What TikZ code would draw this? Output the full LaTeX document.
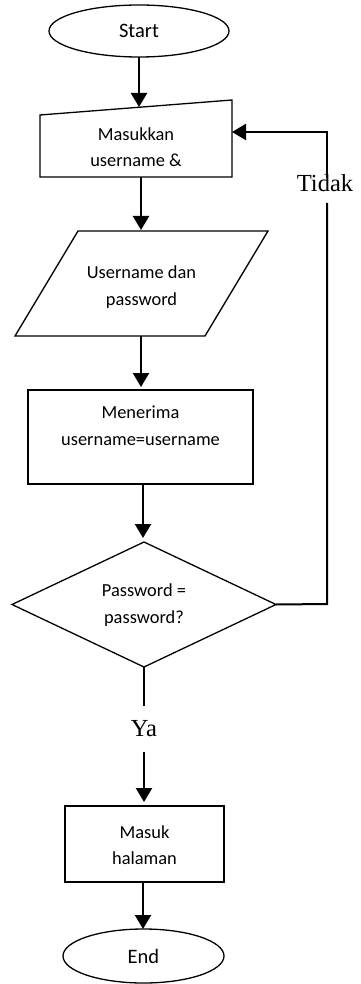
\documentclass[tikz,border=0pt]{standalone}
\usepackage{fontspec}
\setmainfont{Carlito}
\newfontfamily\timesf{Liberation Serif}
\usetikzlibrary{arrows.meta,shapes.geometric}
\begin{document}
\begin{tikzpicture}[x=1pt,y=-1pt,
  shapeline/.style={draw=black, line width=1.3pt},
  frame/.style={shapeline, inner sep=0pt, outer sep=0pt},
  boxtext/.style={align=center, font=\fontsize{18.4}{26.5}\selectfont, inner sep=0pt},
  termtext/.style={font=\fontsize{20.5}{24}\selectfont},
  arr/.style={line width=2.2pt, -{Triangle[width=16pt,length=14pt]}},
  conn/.style={line width=2pt},
  lbl/.style={font=\timesf\fontsize{24.5}{28}\selectfont, inner sep=0pt}]
\useasboundingbox (0,0) rectangle (360,984);

% Start
\node[ellipse, frame, minimum width=180pt, minimum height=52pt, termtext] (start) at (139,31) {Start};

% Manual input
\node[inner sep=0pt, outer sep=0pt, minimum width=192pt, minimum height=77pt] (inp) at (136,138.5) {};
\draw[shapeline] (inp.south west) -- ++(0,-62) -- (inp.north east) -- (inp.south east) -- cycle;
\node[boxtext] (inptext) at (136,147) {Masukkan\\username \&};
\coordinate (inptip) at (139,107);

% Parallelogram
\node[inner sep=0pt, outer sep=0pt, minimum width=190pt, minimum height=105pt] (par) at (141.5,283.5) {};
\draw[shapeline] (78,231) -- (268,231) -- (205,336) -- (15,336) -- cycle;
\node[boxtext] (partext) at (141.5,287) {Username dan\\password};

% Process rectangle
\node[rectangle, frame, minimum width=225pt, minimum height=94pt] (proc) at (140.5,437) {};
\node[boxtext] (proctext) at (140.5,425.5) {Menerima\\username=username};

% Decision
\node[inner sep=0pt, outer sep=0pt, minimum width=264pt, minimum height=125pt] (dec) at (144,604.5) {};
\draw[shapeline] (dec.north) -- (dec.east) -- (dec.south) -- (dec.west) -- cycle;
\node[boxtext] (dectext) at (144,605) {Password =\\password?};

% Ya label
\node[lbl, minimum height=46pt] (ya) at (144,729) {Ya};

% Masuk halaman
\node[rectangle, frame, minimum width=159pt, minimum height=76pt] (masuk) at (144.5,844) {};
\node[boxtext] (masuktext) at (144.5,845) {Masuk\\halaman};

% End
\node[ellipse, frame, minimum width=161pt, minimum height=54pt, termtext] (end) at (143.5,956) {End};

% Tidak label
\node[lbl] (tidak) at (325,183) {Tidak};
\coordinate (loopa) at (327,604);
\coordinate (loopb) at (327,203);
\coordinate (loopc) at (327,178);
\coordinate (loopd) at (327,132);
\coordinate (loope) at (232,132);

% Connectors
\draw[arr] (start.south -| inptip) -- (inptip);
\draw[arr] (inp.south -| 141,0) -- (141,230);
\draw[arr] (par.south -| 141,0) -- (141,387);
\draw[arr] (proc.south -| 143,0) -- (143,538);
\draw[conn] (dec.south) -- (ya.north);
\draw[arr] (ya.south) -- (144,802);
\draw[arr] (masuk.south -| 143,0) -- (end.north -| 143,0);
\draw[conn] (dec.east) -- (loopa) -- (loopb);
\draw[arr] (loopc) -- (loopd) -- (loope);
\end{tikzpicture}
\end{document}
